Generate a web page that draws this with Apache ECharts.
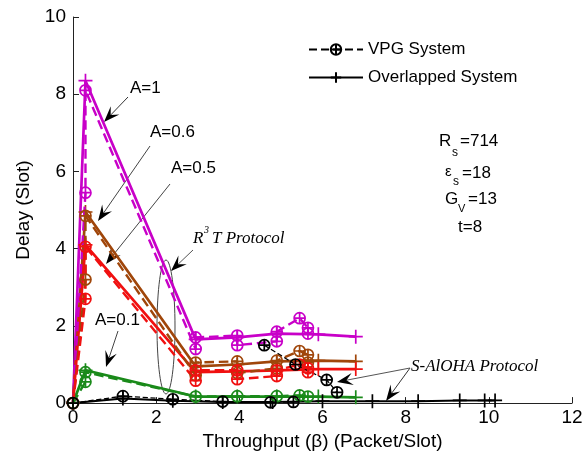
<!DOCTYPE html>
<html><head><meta charset="utf-8">
<script src="https://cdn.jsdelivr.net/npm/echarts@6/dist/echarts.min.js"></script>
<style>html,body{margin:0;padding:0;background:#fff}#c{width:586px;height:456px}</style>
</head><body><div id="c"></div>
<script>
// ---- data ----
const xTicks = [0, 2, 4, 6, 8, 10, 12];
const yTicks = [0, 2, 4, 6, 8, 10];

// A = 1 (magenta)
const vpgA1X = [0, 0.3, 0.3, 2.95, 2.95, 3.95, 3.95, 4.9, 4.9, 5.45, 5.65, 5.65];
const vpgA1Y = [0, 5.45, 8.1, 1.4, 1.7, 1.75, 1.5, 1.6, 1.85, 2.2, 1.95, 1.8];
const ovlA1X = [0, 0.3, 2.95, 3.95, 4.9, 5.9, 6.8];
const ovlA1Y = [0, 8.35, 1.65, 1.7, 1.8, 1.78, 1.72];
// A = 0.6 (brown)
const vpgA06X = [0, 0.3, 0.3, 2.95, 2.95, 3.95, 3.95, 4.9, 4.9, 5.45, 5.65, 5.65];
const vpgA06Y = [0, 3.2, 4.85, 0.72, 1.05, 1.08, 0.78, 0.9, 1.1, 1.35, 1.25, 1.05];
const ovlA06X = [0, 0.3, 2.95, 3.95, 4.9, 5.9, 6.8];
const ovlA06Y = [0, 4.95, 0.95, 1.0, 1.08, 1.1, 1.08];
// A = 0.5 (red)
const vpgA05X = [0, 0.3, 0.3, 2.95, 2.95, 3.95, 3.95, 4.9, 4.9, 5.45, 5.65, 5.65];
const vpgA05Y = [0, 2.7, 4.05, 0.58, 0.85, 0.85, 0.62, 0.7, 0.85, 1.0, 0.9, 0.8];
const ovlA05X = [0, 0.3, 2.95, 3.95, 4.9, 5.9, 6.8];
const ovlA05Y = [0, 4.1, 0.8, 0.82, 0.85, 0.88, 0.88];
// A = 0.1 (green)
const vpgA01X = [0, 0.3, 0.3, 2.95, 3.95, 4.9, 5.45, 5.65];
const vpgA01Y = [0, 0.55, 0.8, 0.17, 0.18, 0.18, 0.2, 0.17];
const ovlA01X = [0, 0.3, 2.95, 3.95, 4.9, 5.9, 6.8];
const ovlA01Y = [0, 0.85, 0.17, 0.17, 0.17, 0.17, 0.15];
// S-ALOHA (black)
const vpgSX = [0, 1.2, 2.4, 3.6, 4.75, 5.3];
const vpgSY = [0, 0.18, 0.1, 0.04, 0.02, 0.03];
const vpgS2X = [4.6, 5.35, 6.1, 6.35];
const vpgS2Y = [1.5, 1.0, 0.6, 0.28];
const ovlSX = [0, 1.2, 2.4, 3.6, 4.8, 6.0, 7.2, 8.3, 9.3, 9.9, 10.15];
const ovlSY = [0, 0.12, 0.06, 0.03, 0.03, 0.05, 0.05, 0.05, 0.07, 0.07, 0.07];

// ---- build ----
const FONT = 'Liberation Sans, Arial, sans-serif';
const SERIF = 'Liberation Serif, Times New Roman, serif';
const CIRC = 'path://M10,0A10,10,0,1,1,-10,0A10,10,0,1,1,10,0ZM0,-10L0,10M-10,0L10,0';
const PLUS = 'path://M0,-10L0,10M-10,0L10,0';
const C = {m:'#c800c8', b:'#a0460a', r:'#f01010', g:'#1a8a1a', k:'#000000'};
function pairs(xs, ys){ return xs.map((x,i)=>[x, ys[i]]); }
function vpg(name, xs, ys, color, w){
  return {name, type:'line', data:pairs(xs,ys), symbol:CIRC, symbolSize:11, showSymbol:true,
    lineStyle:{color, width:w||2.4, type:'dashed'},
    itemStyle:{color:'rgba(0,0,0,0)', borderColor:color, borderWidth:1.7},
    emphasis:{disabled:true}, z:3};
}
function ovl(name, xs, ys, color, w){
  return {name, type:'line', data:pairs(xs,ys), symbol:PLUS, symbolSize:14, showSymbol:true,
    lineStyle:{color, width:w||2.7, type:'solid'},
    itemStyle:{color:'rgba(0,0,0,0)', borderColor:color, borderWidth:1.7},
    emphasis:{disabled:true}, z:2};
}
const series = [
  vpg('vpgA1', vpgA1X, vpgA1Y, C.m), ovl('ovlA1', ovlA1X, ovlA1Y, C.m),
  vpg('vpgA06', vpgA06X, vpgA06Y, C.b), ovl('ovlA06', ovlA06X, ovlA06Y, C.b),
  vpg('vpgA05', vpgA05X, vpgA05Y, C.r), ovl('ovlA05', ovlA05X, ovlA05Y, C.r),
  vpg('vpgA01', vpgA01X, vpgA01Y, C.g), ovl('ovlA01', ovlA01X, ovlA01Y, C.g),
  vpg('VPG System', vpgSX, vpgSY, C.k, 1.3),
  vpg('VPG System', vpgS2X, vpgS2Y, C.k, 1.3),
  ovl('Overlapped System', ovlSX, ovlSY, C.k, 2)
];

function arrow(x1,y1,x2,y2,col){
  const dx=x2-x1, dy=y2-y1, L=Math.hypot(dx,dy), ux=dx/L, uy=dy/L, px=-uy, py=ux;
  const h=16, w=6;
  const bx=x2-ux*h, by=y2-uy*h, nx=x2-ux*h*0.6, ny=y2-uy*h*0.6;
  return [
    {type:'line', shape:{x1,y1,x2:nx,y2:ny}, style:{stroke:col||'#333', lineWidth:1}, silent:true},
    {type:'polygon', shape:{points:[[x2,y2],[bx+px*w,by+py*w],[nx,ny],[bx-px*w,by-py*w]]}, style:{fill:'#000'}, silent:true}
  ];
}
function txt(x,y,t,size,font,extra){
  return {type:'text', x, y, style:{text:t, font:(extra||'')+' '+size+'px '+(font||FONT), fill:'#000'}, silent:true};
}
const graphic = [].concat(
  txt(130,80,'A=1',17), arrow(128,97,104,122),
  txt(150,124,'A=0.6',17), arrow(150,146,98,221,'#444'),
  txt(171,160,'A=0.5',17), arrow(170,184,106,264,'#444'),
  txt(95,312,'A=0.1',17), arrow(118,331,106,367,'#444'),
  [{type:'ellipse', shape:{cx:166,cy:327,rx:9,ry:67}, style:{fill:'none', stroke:'#444', lineWidth:1}, silent:true}],
  txt(193,230,'R',17,SERIF,'italic'), txt(204,225,'3',10,SERIF,'italic'), txt(212,230,'T Protocol',17,SERIF,'italic'),
  arrow(193,250,171,271,'#555'),
  txt(411,358,'S-AlOHA Protocol',17,SERIF,'italic'),
  arrow(410,368,386,401,'#333'), arrow(410,368,337,382,'#555'),
  txt(439,133,'R',17), txt(452,147,'s',12), txt(460,133,'=714',17),
  txt(445,164,'ε',15), txt(453,176,'s',12), txt(462,165,'=18',17),
  txt(445,191,'G',17), txt(458,203,'V',11), txt(468,191,'=13',17),
  txt(458,219,'t=8',17)
);

const option = {
  animation:false,
  backgroundColor:'#fff',
  grid:{left:73, right:14, top:17, bottom:52, containLabel:false},
  legend:{orient:'vertical', left:303, top:36, itemWidth:54, itemHeight:13, itemGap:11,
    data:['VPG System','Overlapped System'],
    textStyle:{fontFamily:FONT, fontSize:17, color:'#000'}, selectedMode:false},
  xAxis:{type:'value', min:0, max:12, interval:2,
    name:'Throughput (β) (Packet/Slot)', nameLocation:'middle', nameGap:27,
    nameTextStyle:{fontFamily:FONT, fontSize:19, color:'#000'},
    axisLine:{lineStyle:{color:'#222', width:1}},
    axisTick:{inside:true, length:6, lineStyle:{color:'#222'}},
    axisLabel:{fontFamily:FONT, fontSize:19, color:'#000', margin:5},
    splitLine:{show:false}},
  yAxis:{type:'value', min:0, max:10, interval:2,
    name:'Delay (Slot)', nameLocation:'middle', nameGap:40,
    nameTextStyle:{fontFamily:FONT, fontSize:19, color:'#000'},
    axisLine:{show:true, lineStyle:{color:'#222', width:1}},
    axisTick:{show:true, inside:true, length:6, lineStyle:{color:'#222'}},
    axisLabel:{fontFamily:FONT, fontSize:19, color:'#000', margin:7},
    splitLine:{show:false}},
  series,
  graphic
};
const chart = echarts.init(document.getElementById('c'));
chart.setOption(option);
</script></body></html>
